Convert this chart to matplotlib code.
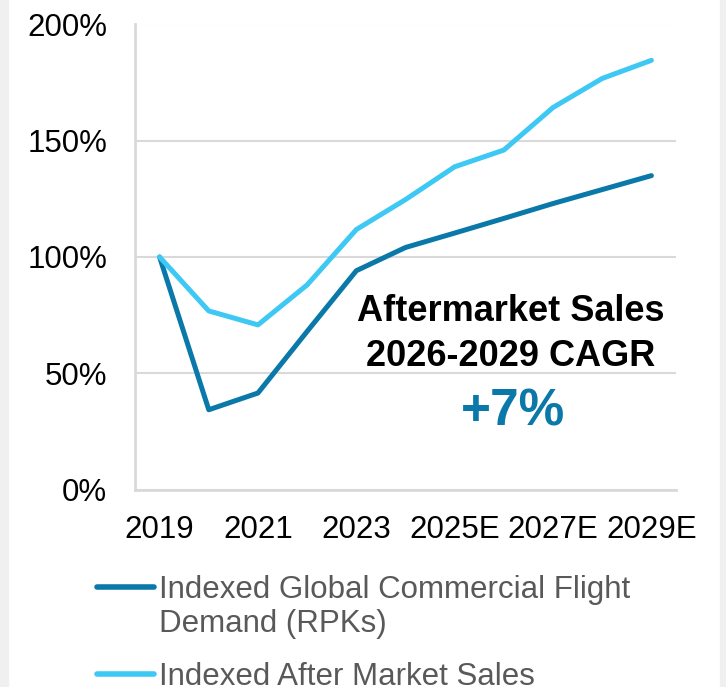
import matplotlib
matplotlib.use("Agg")
import matplotlib.pyplot as plt
from matplotlib.lines import Line2D
from matplotlib.patches import Rectangle
from matplotlib.ticker import FuncFormatter

plt.rcParams['font.family'] = ['Liberation Sans', 'DejaVu Sans']

years = ["2019", "2020", "2021", "2022", "2023", "2024",
         "2025E", "2026E", "2027E", "2028E", "2029E"]
flight_demand = [100, 34.3, 41.5, 68, 94.1, 104.1, 110.3, 116.6, 123, 129, 135]
aftermarket = [100, 76.8, 70.8, 88, 111.8, 124.7, 138.8, 146, 164.3, 176.8, 184.6]
series_labels = ["Indexed Global Commercial Flight\nDemand (RPKs)",
                 "Indexed After Market Sales"]
y_ticks = [0, 50, 100, 150, 200]

DARK = "#0a78a8"
LIGHT = "#3ec8f4"
GRID = "#d9d9d9"

fig = plt.figure(figsize=(7.26, 6.87), dpi=100)
fig.patch.set_facecolor("white")
# grey side strips
fig.patches.append(Rectangle((0, 0), 8 / 726, 1, transform=fig.transFigure,
                             color="#f0f0f0", zorder=0))
fig.patches.append(Rectangle((720 / 726, 0), 6 / 726, 1, transform=fig.transFigure,
                             color="#f0f0f0", zorder=0))

ax = fig.add_axes([135 / 726, 1 - 489.5 / 687, (676 - 135) / 726, (489.5 - 24.5) / 687])
x = list(range(len(years)))
ax.plot(x, flight_demand, color=DARK, lw=3.6, solid_capstyle="round",
        solid_joinstyle="round", zorder=3)
ax.plot(x, aftermarket, color=LIGHT, lw=3.6, solid_capstyle="round",
        solid_joinstyle="round", zorder=3)

ax.set_xlim(-0.5, len(years) - 0.5)
ax.set_ylim(0, 200)
ax.set_yticks(y_ticks)
ax.yaxis.set_major_formatter(FuncFormatter(lambda v, p: f"{int(v)}%"))
ax.set_xticks(x[::2])
ax.set_xticklabels(years[::2])
ax.tick_params(axis="both", length=0, labelsize=22.5, colors="black")
ax.tick_params(axis="y", pad=20)
ax.tick_params(axis="x", pad=18)
ax.grid(axis="y", color=GRID, lw=1.5)
ax.set_axisbelow(True)
for s in ["top", "right"]:
    ax.spines[s].set_visible(False)
ax.spines["left"].set_color(GRID)
ax.spines["left"].set_linewidth(2)
ax.spines["bottom"].set_color(GRID)
ax.spines["bottom"].set_linewidth(2)

# annotation
fig.text(511 / 726, 1 - 312 / 687, "Aftermarket Sales", ha="center", va="center",
         fontsize=26, fontweight="bold", color="black")
fig.text(511 / 726, 1 - 357 / 687, "2026-2029 CAGR", ha="center", va="center",
         fontsize=26, fontweight="bold", color="black")
fig.text(513 / 726, 1 - 412 / 687, "+7%", ha="center", va="center",
         fontsize=37, fontweight="bold", color=DARK)

# legend (manual, handle aligned with first text line)
legend_rows = [(587, DARK, series_labels[0]), (674, LIGHT, series_labels[1])]
for ypix, col, lab in legend_rows:
    yf = 1 - ypix / 687
    fig.add_artist(Line2D([97 / 726, 154 / 726], [yf, yf], transform=fig.transFigure,
                          color=col, lw=4, solid_capstyle="round"))
    fig.text(159 / 726, 1 - (ypix - 12) / 687, lab, ha="left", va="top",
             fontsize=22.5, color="#595959", linespacing=1.16)

fig.savefig("out.png", dpi=100, facecolor="white")
